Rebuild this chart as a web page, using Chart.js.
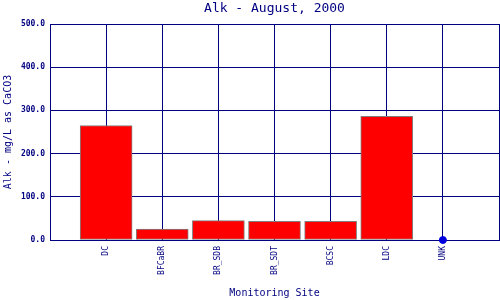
<!DOCTYPE html>
<html>
<head>
<meta charset="utf-8">
<script src="https://cdn.jsdelivr.net/npm/chart.js@4"></script>
<style>
    html, body { margin: 0; padding: 0; background: #ffffff; }
    #wrap { width: 500px; height: 300px; }
</style>
</head>
<body>
<div id="wrap"><canvas id="alkChart"></canvas></div>
<script>
// Data
const sites = ['DC', 'BFCaBR', 'BR_SDB', 'BR_SDT', 'BCSC', 'LDC', 'UNK'];
const alkValues = [265, 25, 45, 43, 43, 286, null];
const missingValues = [null, null, null, null, null, null, 0];
const yTicks = [0, 100, 200, 300, 400, 500];

const navy = '#000080';
const mono = 'DejaVu Sans Mono';

document.addEventListener("DOMContentLoaded", () => {
    const ctx = document.getElementById('alkChart');

    const barPoints = [];
    const dotPoints = [];
    sites.forEach((s, i) => {
        if (alkValues[i] !== null) barPoints.push({ x: i, y: alkValues[i] });
        if (missingValues[i] !== null) dotPoints.push({ x: i, y: missingValues[i] });
    });

    // keep the scales from reserving room for end labels
    const zeroPad = (scale) => {
        scale.paddingLeft = 0;
        scale.paddingRight = 0;
        scale.paddingTop = 0;
        scale.paddingBottom = 0;
    };

    new Chart(ctx, {
        data: {
            datasets: [{
                type: 'scatter',
                label: 'No data',
                data: dotPoints,
                backgroundColor: '#0000dd',
                borderColor: '#0000dd',
                pointRadius: 3.5,
                clip: false,
                order: 0
            }, {
                type: 'bar',
                label: 'Alk',
                data: barPoints,
                backgroundColor: '#ff0000',
                borderColor: '#808080',
                borderWidth: 1,
                borderSkipped: false,
                barThickness: 52,
                order: 1
            }]
        },
        options: {
            responsive: true,
            maintainAspectRatio: false,
            animation: false,
            layout: {
                autoPadding: false,
                padding: { left: 0, right: 1, top: 0, bottom: 0 }
            },
            plugins: {
                legend: { display: false },
                tooltip: { enabled: false },
                title: {
                    display: true,
                    text: 'Alk - August, 2000',
                    color: navy,
                    fullSize: false,
                    font: { family: mono, size: 13, weight: 'normal', lineHeight: 1.2 },
                    padding: { top: 1, bottom: 7.4 }
                }
            },
            scales: {
                x: {
                    type: 'linear',
                    min: -1,
                    max: sites.length,
                    offset: false,
                    grid: { color: navy, lineWidth: 1, drawTicks: false, offset: false },
                    border: { color: navy, width: 1 },
                    afterBuildTicks: (scale) => {
                        const t = [];
                        for (let v = -1; v <= sites.length; v++) t.push({ value: v });
                        scale.ticks = t;
                    },
                    afterFit: (scale) => {
                        scale.height = 60;
                        zeroPad(scale);
                    },
                    ticks: {
                        color: navy,
                        autoSkip: false,
                        minRotation: 90,
                        maxRotation: 90,
                        padding: 6,
                        font: { family: mono, size: 8 },
                        callback: (value) => sites[value] !== undefined ? sites[value] : ''
                    },
                    title: {
                        display: true,
                        text: 'Monitoring Site',
                        color: navy,
                        font: { family: mono, size: 10 },
                        padding: { top: 0, bottom: 1 }
                    }
                },
                y: {
                    min: 0,
                    max: 500,
                    grid: { color: navy, lineWidth: 1, drawTicks: false },
                    border: { color: navy, width: 1 },
                    afterBuildTicks: (scale) => {
                        scale.ticks = yTicks.map(v => ({ value: v }));
                    },
                    afterFit: (scale) => {
                        scale.width = 50;
                        zeroPad(scale);
                    },
                    ticks: {
                        color: navy,
                        padding: 5,
                        font: { family: mono, size: 8, weight: 'bold' },
                        callback: (value) => value.toFixed(1)
                    },
                    title: {
                        display: true,
                        text: 'Alk - mg/L as CaCO3',
                        color: navy,
                        font: { family: mono, size: 10 },
                        padding: { top: 2, bottom: 0 }
                    }
                }
            }
        }
    });
});
</script>
</body>
</html>
